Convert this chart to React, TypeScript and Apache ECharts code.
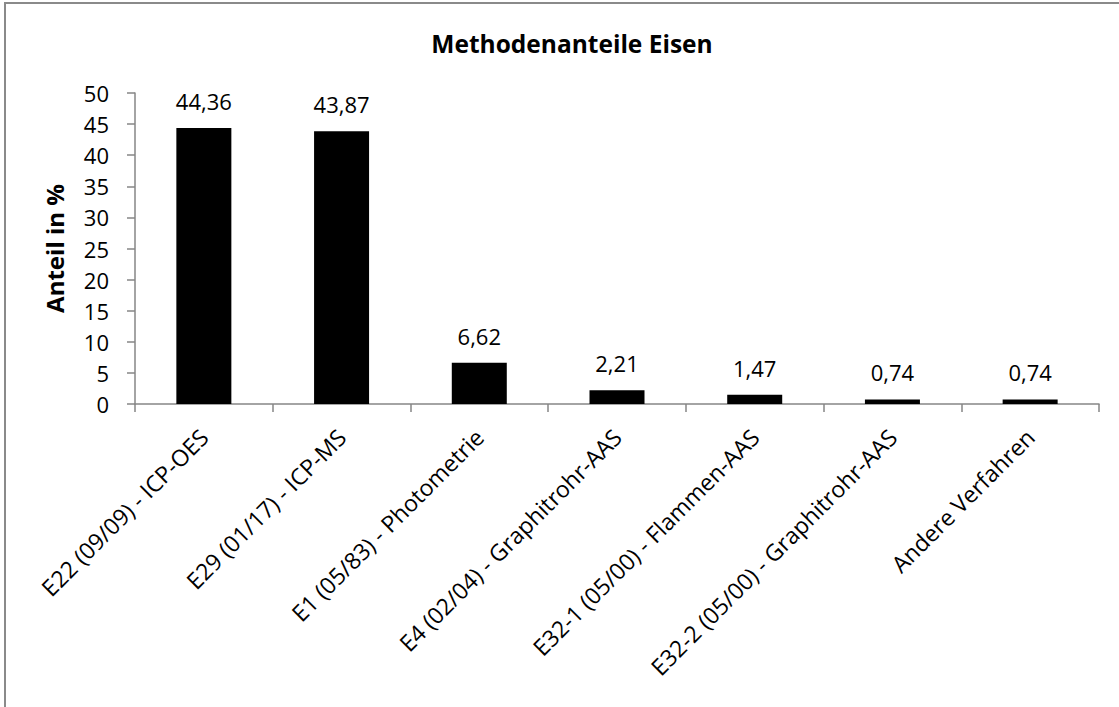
import React, { useEffect, useRef } from "react";
import * as echarts from "echarts";

const categories = [
  "E22 (09/09) - ICP-OES",
  "E29 (01/17) - ICP-MS",
  "E1 (05/83) - Photometrie",
  "E4 (02/04) - Graphitrohr-AAS",
  "E32-1 (05/00) - Flammen-AAS",
  "E32-2 (05/00) - Graphitrohr-AAS",
  "Andere Verfahren",
];
const values = [44.36, 43.87, 6.62, 2.21, 1.47, 0.74, 0.74];
const titleText = "Methodenanteile Eisen";
const yAxisName = "Anteil in %";

const FONT = "'Open Sans', 'Noto Sans', sans-serif";

export default function App() {
  const ref = useRef<HTMLDivElement>(null);
  useEffect(() => {
    if (!ref.current) return;
    const chart = echarts.init(ref.current, undefined, { renderer: "svg" });
    chart.setOption({
      animation: false,
      backgroundColor: "#ffffff",
      title: {
        text: titleText,
        left: 567,
        top: 26,
        textAlign: "center",
        textStyle: { fontFamily: FONT, fontWeight: "bold", fontSize: 24.5, color: "#000" },
      },
      graphic: [
        {
          type: "rect",
          shape: { x: 5, y: 3, width: 1300, height: 900 },
          style: { fill: "none", stroke: "#8a8a8a", lineWidth: 2 },
          silent: true,
        },
      ],
      grid: {
        left: 135,
        right: 20,
        top: 93,
        bottom: 303,
        outerBoundsMode: "none",
      },
      xAxis: {
        type: "category",
        data: categories,
        boundaryGap: true,
        axisLine: { lineStyle: { color: "#868686", width: 1.5 } },
        axisTick: { show: true, length: 8, inside: false, lineStyle: { color: "#868686", width: 1.5 } },
        axisLabel: {
          interval: 0,
          rotate: 45,
          margin: 29,
          fontFamily: FONT,
          fontSize: 23,
          color: "#000",
        },
      },
      yAxis: {
        type: "value",
        min: 0,
        max: 50,
        interval: 5,
        name: yAxisName,
        nameLocation: "middle",
        nameGap: 69,
        nameTextStyle: { fontFamily: FONT, fontWeight: "bold", fontSize: 24, color: "#000" },
        splitLine: { show: false },
        axisLine: { show: true, lineStyle: { color: "#868686", width: 1.5 } },
        axisTick: { show: true, length: 8, inside: false, lineStyle: { color: "#868686", width: 1.5 } },
        axisLabel: { margin: 26, fontFamily: FONT, fontSize: 22, color: "#000" },
      },
      series: [
        {
          type: "bar",
          data: values,
          barWidth: 55,
          itemStyle: { color: "#000000" },
          label: {
            show: true,
            position: "top",
            distance: 16,
            fontFamily: FONT,
            fontSize: 22,
            color: "#000",
            formatter: (p: any) => Number(p.value).toFixed(2).replace(".", ","),
          },
        },
      ],
    });
    return () => chart.dispose();
  }, []);
  return (
    <div
      ref={ref}
      style={{ position: "fixed", left: 0, top: 0, width: 1119, height: 707 }}
    />
  );
}
